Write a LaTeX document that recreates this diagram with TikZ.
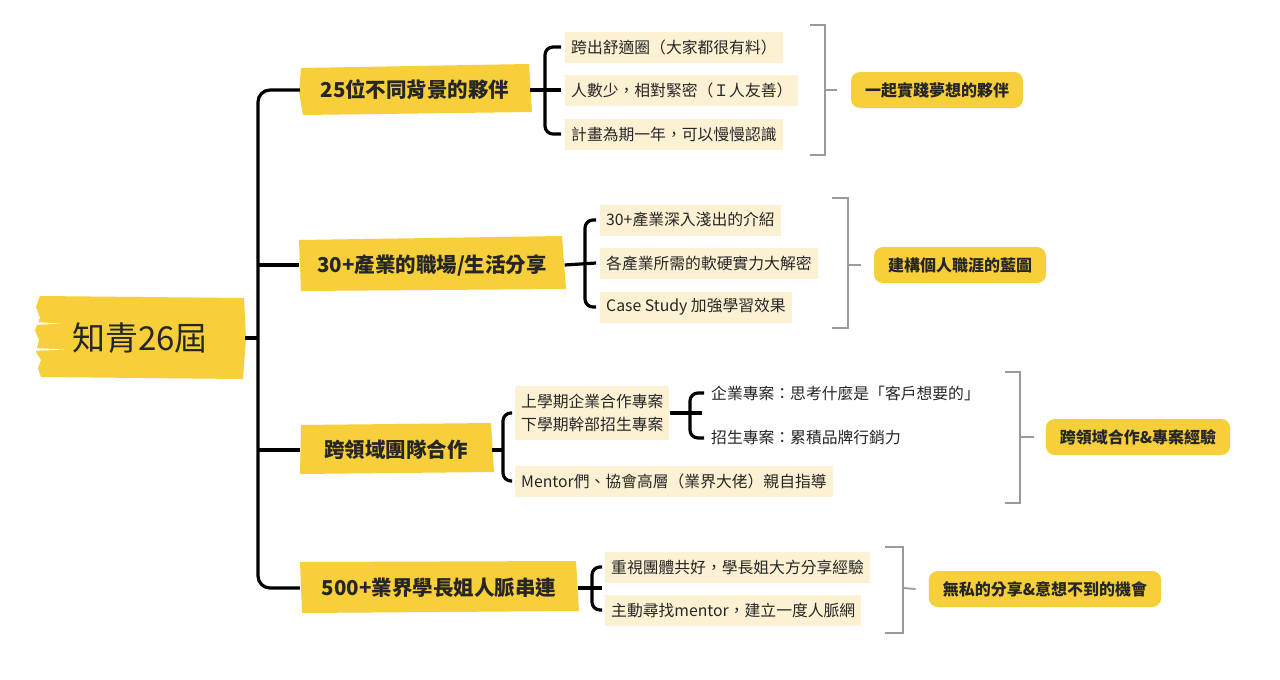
\documentclass[tikz,border=0pt]{standalone}
\usepackage{fontspec}
\newfontfamily\cjk{Noto Sans CJK TC}
\usetikzlibrary{backgrounds,calc}
\definecolor{ylw}{HTML}{F6CF3A}
\definecolor{crm}{HTML}{FDF1D4}
\definecolor{gry}{HTML}{9A9A9A}
\definecolor{ink}{HTML}{262626}
\begin{document}
\begin{tikzpicture}[x=1pt,y=-1pt,
 every node/.style={font=\cjk, text=ink},
 rootbox/.style={minimum width=210, minimum height=85, inner sep=0, font=\cjk\fontsize{33}{38}\selectfont},
 lone/.style={minimum height=48, inner sep=0, font=\cjk\bfseries\fontsize{20.5}{24}\selectfont},
 leaf/.style={anchor=west, fill=crm, minimum height=31, inner xsep=6, inner ysep=0, font=\cjk\fontsize{15.8}{24}\selectfont},
 plainleaf/.style={anchor=west, inner xsep=6, inner ysep=0, font=\cjk\fontsize{15.8}{24}\selectfont},
 lab/.style={fill=ylw, rounded corners=9, minimum height=36, inner xsep=14, inner ysep=0, font=\cjk\bfseries\fontsize{16}{19}\selectfont},
 blk/.style={line width=3.2, black, rounded corners=8},
 spine/.style={line width=3.2, black, rounded corners=12},
 gline/.style={line width=1.8, gry},
 brush/.style={fill=ylw},
]
\useasboundingbox (0,0) rectangle (1280,680);

% root
\node[rootbox] (root) at (140,338) {知青26屆};
% level 1
\node[lone, minimum width=230] (n1) at (415,90) {25位不同背景的夥伴};
\node[lone, minimum width=265] (n2) at (432,265) {30+產業的職場/生活分享};
\node[lone, minimum width=192] (n3) at (396,450) {跨領域團隊合作};
\node[lone, minimum width=278] (n4) at (439,588) {500+業界學長姐人脈串連};

% leaves
\node[leaf] (c11) at (565,47) {跨出舒適圈（大家都很有料）};
\node[leaf] (c12) at (565,90) {人數少，相對緊密（Ｉ人友善）};
\node[leaf] (c13) at (565,134) {計畫為期一年，可以慢慢認識};
\node[leaf] (c21) at (600,220) {30+產業深入淺出的介紹};
\node[leaf] (c22) at (600,263) {各產業所需的軟硬實力大解密};
\node[leaf] (c23) at (600,307) {Case Study 加強學習效果};
\node[leaf, align=left, minimum height=54, font=\cjk\fontsize{15.8}{23}\selectfont] (c31) at (515,413) {上學期企業合作專案\\下學期幹部招生專案};
\node[leaf] (c32) at (515,481) {Mentor們、協會高層（業界大佬）親自指導};
\node[plainleaf] (d1) at (705,393) {企業專案：思考什麼是「客戶想要的」};
\node[plainleaf] (d2) at (705,438) {招生專案：累積品牌行銷力};
\node[leaf] (c41) at (605,567) {重視團體共好，學長姐大方分享經驗};
\node[leaf] (c42) at (605,610) {主動尋找mentor，建立一度人脈網};

% labels
\node[lab] (lab1) at (937,90) {一起實踐夢想的夥伴};
\node[lab] (lab2) at (960,265) {建構個人職涯的藍圖};
\node[lab] (lab3) at (1138,437) {跨領域合作\&專案經驗};
\node[lab] (lab4) at (1045,589) {無私的分享\&意想不到的機會};

% brush backgrounds
\begin{scope}[on background layer]
\fill[white] (0,0) rectangle (1280,680);
\fill[brush] (40,296) -- (244,298) -- (246,338) -- (243,379) -- (41,377) -- (38,368) -- (41,360) -- (36,352) -- (39,340) -- (35,330) -- (40,318) -- (36,307) -- cycle;
\fill[white] (34,322) -- (60,323.5) -- (34,325) -- cycle;
\fill[white] (34,348) -- (64,349.5) -- (34,351) -- cycle;
\fill[brush] (301,68) -- (529,64) -- (532,112) -- (303,115) -- (299,92) -- cycle;
\fill[brush] (299,240) -- (562,236) -- (566,289) -- (301,291) -- cycle;
\fill[brush] (301,425) -- (491,423) -- (494,472) -- (300,474) -- cycle;
\fill[brush] (300,562) -- (576,561) -- (579,611) -- (302,613) -- cycle;
\end{scope}

% spine
\coordinate (sp) at (258,0);
\draw[spine] (n1.west) -- (n1.west -| sp) -- (n4.west -| sp) -- (n4.west);
\draw[blk] (n2.west -| sp) -- (n2.west);
\draw[blk] (n3.west -| sp) -- (n3.west);
\draw[blk] (root.east) -- (root.east -| sp);

% braces
\coordinate (b1) at (545,0);
\draw[blk] ([xshift=-4]c11.west) -- (c11.west -| b1) -- (c13.west -| b1) -- ([xshift=-4]c13.west);
\draw[blk] (n1.east) -- ([xshift=-4]c12.west);
\coordinate (b2) at (585,0);
\draw[blk] ([xshift=-4]c21.west) -- (c21.west -| b2) -- (c23.west -| b2) -- ([xshift=-4]c23.west);
\draw[blk] (n2.east) -- ([xshift=-4]c22.west);
\coordinate (b3) at (503,0);
\draw[blk] ([xshift=-3]c31.west) -- (c31.west -| b3) -- (c32.west -| b3) -- ([xshift=-3]c32.west);
\draw[blk] (n3.east) -- (n3.east -| b3);
\coordinate (b5) at (690,0);
\draw[blk] ([xshift=-1]d1.west) -- (d1.west -| b5) -- (d2.west -| b5) -- ([xshift=-1]d2.west);
\draw[blk] (c31.east) -- ($(c31.east -| b5)+(12,0)$);
\coordinate (b4) at (592,0);
\draw[blk] ([xshift=-3]c41.west) -- (c41.west -| b4) -- (c42.west -| b4) -- ([xshift=-3]c42.west);
\draw[blk] (n4.east) -- ($(n4.east -| b4)+(10,0)$);

% gray brackets
\draw[gline] (810,25) -- (825,25) -- (825,155) -- (810,155);
\draw[gline] (825,90) -- ([xshift=-14]lab1.west);
\draw[gline] (832,198) -- (848,198) -- (848,328) -- (832,328);
\draw[gline] (848,265) -- ([xshift=-13]lab2.west);
\draw[gline] (1005,372) -- (1020,372) -- (1020,503) -- (1005,503);
\draw[gline] (1020,437) -- ([xshift=-12]lab3.west);
\draw[gline] (885,547) -- (903,547) -- (903,633) -- (885,633);
\draw[gline] (903,588) -- ([xshift=-13]lab4.west);
\end{tikzpicture}
\end{document}
